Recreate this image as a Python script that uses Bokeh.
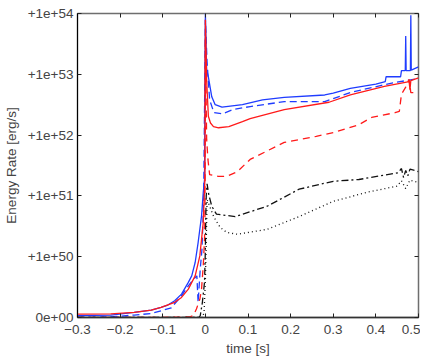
import numpy as np
from bokeh.plotting import figure
from bokeh.models import FixedTicker, LinearAxis, Range1d
from bokeh.embed import file_html
from bokeh.resources import INLINE

# ---- data (time in s, energy rate in erg/s) ----
t_blue_solid = [-0.30, -0.222, -0.167, -0.127, -0.104, -0.088, -0.072, -0.056, -0.040, -0.032,
                -0.024, -0.017, -0.009, -0.005, -0.002, 0.0, 0.003, 0.007, 0.015, 0.023, 0.039,
                0.087, 0.134, 0.185, 0.28, 0.30, 0.34, 0.40, 0.422, 0.424, 0.458, 0.460, 0.469,
                0.470, 0.471, 0.481, 0.482, 0.483, 0.50]
e_blue_solid = [3.0e48, 4.0e48, 8.5e48, 1.23e49, 1.67e49, 2.05e49, 2.75e49, 3.85e49, 5.77e49, 6.85e49,
                9.05e49, 1.71e50, 4.67e50, 1.13e51, 1.86e51, 1.0e54, 1.17e53, 9.1e52, 4.27e52, 3.16e52, 2.88e52,
                3.16e52, 3.80e52, 4.17e52, 4.57e52, 4.90e52, 5.89e52, 6.92e52, 7.59e52, 9.12e52, 9.12e52, 1.15e53, 1.15e53,
                4.27e53, 1.15e53, 1.15e53, 9.33e53, 1.17e53, 1.32e53]

t_blue_dash = [-0.30, -0.222, -0.167, -0.127, -0.104, -0.080, -0.056, -0.040, -0.028, -0.020,
               -0.017, -0.012, -0.008, -0.004, 0.0, 0.004, 0.010, 0.020, 0.040, 0.065, 0.105,
               0.185, 0.28, 0.34, 0.39, 0.44, 0.50]
e_blue_dash = [5e47, 1e48, 4e48, 6.5e48, 1.1e49, 1.6e49, 3.57e49, 5.2e49, 6.3e49, 6.85e49,
               2.5e49, 8.0e49, 1.32e50, 8.7e50, 7.9e53, 1.58e53, 3.8e52, 2.34e52, 2.24e52, 2.63e52, 2.95e52,
               3.55e52, 3.55e52, 5.01e52, 6.03e52, 7.24e52, 8.51e52]

t_red_solid = [-0.30, -0.222, -0.167, -0.127, -0.104, -0.072, -0.056, -0.040, -0.024, -0.013,
               -0.005, -0.001, 0.0, 0.003, 0.007, 0.012, 0.019, 0.031, 0.055, 0.087, 0.105,
               0.185, 0.29, 0.34, 0.42, 0.478, 0.480, 0.482, 0.50]
e_red_solid = [5.7e48, 6.0e48, 8.5e48, 1.23e49, 1.67e49, 2.5e49, 3.3e49, 4.67e49, 6.85e49, 1.03e50,
               3.63e50, 2.0e51, 7.9e53, 7.9e52, 2.04e52, 1.58e52, 1.38e52, 1.32e52, 1.38e52, 1.66e52, 1.86e52,
               2.63e52, 3.47e52, 4.57e52, 6.31e52, 7.6e52, 5.6e52, 7.9e52, 8.71e52]

t_red_dash = [-0.30, -0.10, -0.05, -0.035, -0.028, -0.021, -0.013, -0.009, -0.005, -0.002,
              -0.001, 0.0, 0.003, 0.006, 0.010, 0.03, 0.05, 0.075, 0.105, 0.185, 0.26, 0.30,
              0.36, 0.39, 0.445, 0.455, 0.460, 0.470, 0.478, 0.482, 0.50]
e_red_dash = [3e47, 3e47, 8e47, 1.5e48, 3e48, 1.4e49, 3e49, 4.67e49, 8.5e49, 1.95e50,
              4.68e50, 3.98e53, 8.5e51, 3.98e51, 2.24e51, 2.09e51, 2.09e51, 2.51e51, 3.98e51, 7.59e51, 9.55e51, 1.10e52,
              1.48e52, 1.95e52, 2.34e52, 2.45e52, 4.68e52, 6.17e52, 8.3e52, 5.01e52, 5.01e52]

t_black_dashdot = [-0.30, -0.015, -0.012, -0.007, -0.002, -0.001, 0.0, 0.001, 0.002, 0.004,
                   0.008, 0.015, 0.026, 0.07, 0.145, 0.22, 0.30, 0.36, 0.452, 0.46, 0.465,
                   0.47, 0.475, 0.48, 0.50]
e_black_dashdot = [0.0, 0.0, 3e48, 2.5e49, 5.8e49, 8.5e49, 1.32e50, 4.68e50, 1.0e51, 1.58e51,
                   1.05e51, 6.76e50, 5.01e50, 4.57e50, 6.76e50, 1.29e51, 1.74e51, 1.86e51, 2.40e51, 2.82e51, 2.0e51,
                   2.63e51, 2.14e51, 2.75e51, 2.51e51]

t_black_dot = [-0.30, -0.006, -0.003, 0.0, 0.002, 0.004, 0.010, 0.020, 0.035, 0.05, 0.075,
               0.145, 0.22, 0.30, 0.38, 0.45, 0.46, 0.47, 0.48, 0.50]
e_black_dot = [0.0, 0.0, 1e49, 6e49, 1.58e50, 8.7e50, 6.76e50, 4.47e50, 3.02e50, 2.51e50, 2.34e50,
               2.82e50, 4.57e50, 8.13e50, 1.15e51, 1.45e51, 1.78e51, 1.32e51, 1.82e51, 1.66e51]

x_ticks = [-0.3, -0.2, -0.1, 0.0, 0.1, 0.2, 0.3, 0.4, 0.5]
x_labels = ["\u22120.3", "\u22120.2", "\u22120.1", "0", "0.1", "0.2", "0.3", "0.4", "0.5"]
y_tick_values = [0.0, 1e50, 1e51, 1e52, 1e53, 1e54]
y_labels = ["0e+00", "+1e+50", "+1e+51", "+1e+52", "+1e+53", "+1e+54"]


# axis scale: linear from 0 to 1e50, logarithmic above
def scale(v):
    u = np.asarray(v, dtype=float) / 1e50
    return np.where(u <= 1.0, u, 1.0 + np.log10(np.maximum(u, 1.0)))


FONT = "Liberation Sans"
FS = "13.5px"

p = figure(width=420, height=358, output_backend="svg", toolbar_location=None,
           x_range=Range1d(-0.3, 0.5), y_range=Range1d(0, 5),
           min_border_left=69, min_border_right=2, min_border_top=13, min_border_bottom=30)
p.grid.visible = False
p.outline_line_color = "#6e6e6e"
p.outline_line_width = 1.5
p.background_fill_color = "white"
p.border_fill_color = "white"

series = [
    (t_blue_solid, e_blue_solid, "#1f3cff", "solid"),
    (t_blue_dash, e_blue_dash, "#1f3cff", "7 4"),
    (t_red_solid, e_red_solid, "#ff1a1a", "solid"),
    (t_red_dash, e_red_dash, "#ff1a1a", "7 5"),
    (t_black_dashdot, e_black_dashdot, "#111111", "7 3 2 3"),
    (t_black_dot, e_black_dot, "#111111", "1 3"),
]
for t, e, c, d in series:
    p.line(t, scale(e), line_color=c, line_width=1.3, line_dash=d)

y_pos = [float(v) for v in scale(y_tick_values)]

p.xaxis.ticker = FixedTicker(ticks=x_ticks)
p.xaxis.major_label_overrides = {float(k): v for k, v in zip(x_ticks, x_labels)}
p.yaxis.ticker = FixedTicker(ticks=y_pos)
p.yaxis.major_label_overrides = {k: v for k, v in zip(y_pos, y_labels)}

p.xaxis.axis_label = "time [s]"
p.yaxis.axis_label = "Energy Rate [erg/s]"
for ax in (p.xaxis[0], p.yaxis[0]):
    ax.axis_label_text_font = FONT
    ax.axis_label_text_font_size = FS
    ax.axis_label_text_font_style = "normal"
    ax.major_label_text_font = FONT
    ax.major_label_text_font_size = FS
    ax.minor_tick_line_color = None
    ax.major_tick_in = 4
    ax.major_tick_out = 0
    ax.major_tick_line_color = "#222222"
p.xaxis.axis_line_color = "#333333"
p.xaxis.axis_line_width = 1.5
p.yaxis.axis_line_color = "black"
p.xaxis.major_label_standoff = 7
p.xaxis.axis_label_standoff = 4
p.yaxis.major_label_standoff = 4
p.yaxis.axis_label_standoff = 6

top = LinearAxis(ticker=FixedTicker(ticks=x_ticks), major_label_text_font_size="0px",
                 major_tick_in=4, major_tick_out=0, minor_tick_line_color=None,
                 axis_line_color=None, major_label_standoff=0, major_tick_line_color="#222222")
right = LinearAxis(ticker=FixedTicker(ticks=y_pos), major_label_text_font_size="0px",
                   major_tick_in=4, major_tick_out=0, minor_tick_line_color=None,
                   axis_line_color=None, major_label_standoff=0, major_tick_line_color="#222222")
p.add_layout(top, "above")
p.add_layout(right, "right")

open("out.html", "w").write(file_html(p, INLINE))
